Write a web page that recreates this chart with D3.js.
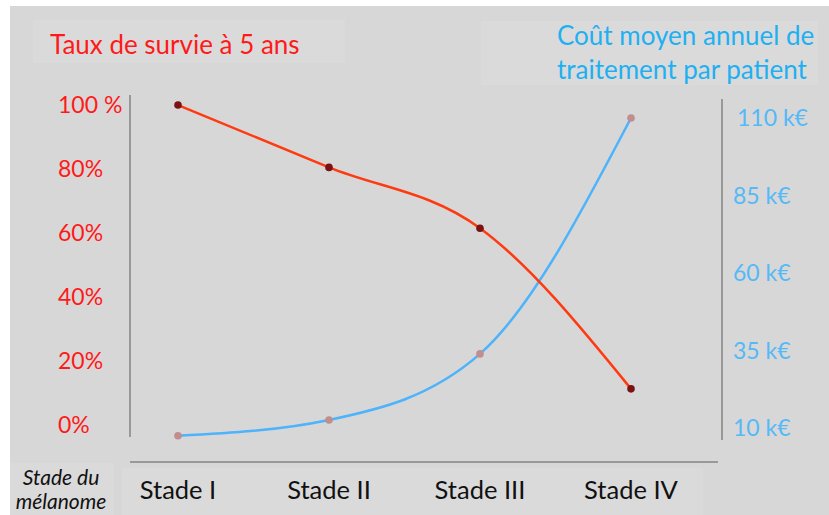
<!DOCTYPE html>
<html lang="fr">
<head>
<meta charset="UTF-8">
<title>Survie et coût par stade du mélanome</title>
<script src="https://d3js.org/d3.v7.min.js"></script>
<style>
    body { margin: 0; background: #fff; }
    text { font-family: Lato, "Open Sans", sans-serif; }
    .tick-left { fill: #ff1a1a; font-size: 23px; }
    .tick-right { fill: #55b9f7; font-size: 23px; }
    .stage { fill: #111; font-size: 25.5px; }
</style>
</head>
<body>
<div id="chart"></div>
<script>
    // data
    const stages = ["Stade I", "Stade II", "Stade III", "Stade IV"];
    const survie = [100, 80.5, 61.5, 11.3];        // %
    const cout = [7.5, 12.6, 33.9, 110];           // k€
    const leftTicks = [0, 20, 40, 60, 80, 100];
    const leftLabels = ["0%", "20%", "40%", "60%", "80%", "100 %"];
    const rightTicks = [10, 35, 60, 85, 110];
    const rightLabels = ["10 k€", "35 k€", "60 k€", "85 k€", "110 k€"];

    const width = 829, height = 515;

    const svg = d3.select("#chart").append("svg")
        .attr("width", width)
        .attr("height", height);

    // background
    svg.append("rect").attr("x", 10).attr("y", 6)
        .attr("width", width - 10).attr("height", height - 6)
        .attr("fill", "#d7d7d7");
    // lighter boxes behind titles and labels
    svg.append("rect").attr("x", 33).attr("y", 20).attr("width", 312).attr("height", 43).attr("fill", "#dadada");
    svg.append("rect").attr("x", 481).attr("y", 21).attr("width", 337).attr("height", 64).attr("fill", "#dadada");
    svg.append("rect").attr("x", 122).attr("y", 468).attr("width", 581).attr("height", 47).attr("fill", "#dadada");
    svg.append("rect").attr("x", 10).attr("y", 463).attr("width", 104).attr("height", 52).attr("fill", "#dadada");

    const x = d3.scalePoint().domain(stages).range([178, 631]);
    const yLeft = d3.scaleLinear().domain([0, 100]).range([425, 105]);
    const yRight = d3.scaleLinear().domain([10, 110]).range([428, 118]);

    // titles
    svg.append("text").attr("x", 50).attr("y", 54)
        .attr("fill", "#ff1a1a").style("font-size", "26px")
        .text("Taux de survie à 5 ans");
    const t2 = svg.append("text").attr("fill", "#1fb0f2").style("font-size", "26px");
    t2.append("tspan").attr("x", 557).attr("y", 45).text("Coût moyen annuel de");
    t2.append("tspan").attr("x", 557).attr("y", 79).text("traitement par patient");

    // axes lines
    const axisColor = "#999";
    svg.append("line").attr("x1", 130).attr("x2", 130).attr("y1", 95).attr("y2", 437)
        .attr("stroke", axisColor).attr("stroke-width", 2);
    svg.append("line").attr("x1", 722).attr("x2", 722).attr("y1", 99).attr("y2", 440)
        .attr("stroke", axisColor).attr("stroke-width", 2);
    svg.append("line").attr("x1", 130).attr("x2", 718).attr("y1", 462).attr("y2", 462)
        .attr("stroke", axisColor).attr("stroke-width", 2);

    // tick labels
    svg.selectAll(".tick-left").data(leftTicks).enter().append("text")
        .attr("class", "tick-left")
        .attr("x", 58)
        .attr("y", d => yLeft(d))
        .attr("dy", "0.36em")
        .text((d, i) => leftLabels[i]);

    svg.selectAll(".tick-right").data(rightTicks).enter().append("text")
        .attr("class", "tick-right")
        .attr("x", d => d === 110 ? 737 : 733)
        .attr("y", d => yRight(d))
        .attr("dy", "0.36em")
        .text((d, i) => rightLabels[i]);

    // x labels
    svg.selectAll(".stage").data(stages).enter().append("text")
        .attr("class", "stage")
        .attr("x", d => x(d))
        .attr("y", 499)
        .attr("text-anchor", "middle")
        .text(d => d);

    const st = svg.append("text").attr("text-anchor", "middle")
        .attr("fill", "#111").style("font-size", "21px").style("font-style", "italic");
    st.append("tspan").attr("x", 61).attr("y", 485).text("Stade du");
    st.append("tspan").attr("x", 61).attr("y", 509).text("mélanome");

    // lines
    const redLine = d3.line()
        .x((d, i) => x(stages[i]))
        .y(d => yLeft(d))
        .curve(d3.curveMonotoneX);
    const blueLine = d3.line()
        .x((d, i) => x(stages[i]))
        .y(d => yRight(d))
        .curve(d3.curveMonotoneX);

    svg.append("path").datum(cout)
        .attr("d", blueLine)
        .attr("fill", "none").attr("stroke", "#4db3fb").attr("stroke-width", 2.5);
    svg.append("path").datum(survie)
        .attr("d", redLine)
        .attr("fill", "none").attr("stroke", "#ff3a10").attr("stroke-width", 2.5);

    svg.selectAll(".pt-blue").data(cout).enter().append("circle")
        .attr("class", "pt-blue")
        .attr("cx", (d, i) => x(stages[i]))
        .attr("cy", d => yRight(d))
        .attr("r", 3.8)
        .attr("fill", "#c18d8d");
    svg.selectAll(".pt-red").data(survie).enter().append("circle")
        .attr("class", "pt-red")
        .attr("cx", (d, i) => x(stages[i]))
        .attr("cy", d => yLeft(d))
        .attr("r", 3.8)
        .attr("fill", "#7a1212");
</script>
</body>
</html>
